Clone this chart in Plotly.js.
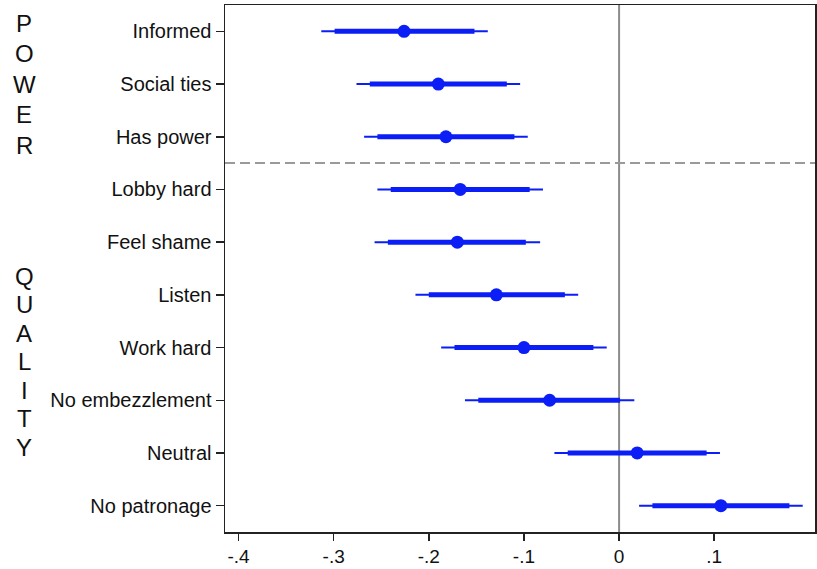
<!DOCTYPE html>
<html>
<head>
<meta charset="utf-8">
<script src="https://cdn.plot.ly/plotly-3.0.1.min.js"></script>
<style>html,body{margin:0;padding:0;background:#fff;}#chart{width:817px;height:569px;}</style>
</head>
<body>
<div id="chart"></div>
<script>
var labels = ["Informed","Social ties","Has power","Lobby hard","Feel shame","Listen","Work hard","No embezzlement","Neutral","No patronage"];
var estimate = [-0.226,-0.190,-0.182,-0.167,-0.170,-0.129,-0.100,-0.073,0.019,0.107];
var lo95 = [-0.313,-0.276,-0.268,-0.254,-0.257,-0.214,-0.187,-0.162,-0.068,0.021];
var hi95 = [-0.138,-0.104,-0.096,-0.080,-0.083,-0.043,-0.013,0.016,0.106,0.193];
var lo90 = [-0.299,-0.262,-0.254,-0.240,-0.243,-0.200,-0.173,-0.148,-0.054,0.035];
var hi90 = [-0.152,-0.118,-0.110,-0.094,-0.098,-0.057,-0.027,0.001,0.092,0.179];
var xTickVals = [-0.4,-0.3,-0.2,-0.1,0,0.1];
var xTickText = ["-.4","-.3","-.2","-.1","0",".1"];
var groupPower = ["P","O","W","E","R"];
var groupQuality = ["Q","U","A","L","I","T","Y"];

var blue = "#0a1ef5";
var rows = labels.map(function(_, i){ return i; });

function mid(lo, hi){ return lo.map(function(v,i){ return (v + hi[i]) / 2; }); }
function half(lo, hi){ return lo.map(function(v,i){ return (hi[i] - v) / 2; }); }

var thin = {
  type: "scatter", mode: "markers", x: mid(lo95, hi95), y: rows,
  marker: {size: 0.1, color: "rgba(0,0,0,0)"},
  error_x: {type: "data", symmetric: true, array: half(lo95, hi95), thickness: 2, width: 0, color: blue},
  hoverinfo: "skip", showlegend: false
};
var thick = {
  type: "scatter", mode: "markers", x: mid(lo90, hi90), y: rows,
  marker: {size: 0.1, color: "rgba(0,0,0,0)"},
  error_x: {type: "data", symmetric: true, array: half(lo90, hi90), thickness: 5, width: 0, color: blue},
  hoverinfo: "skip", showlegend: false
};
var pts = {
  type: "scatter", mode: "markers", x: estimate, y: rows,
  marker: {size: 13, color: blue, line: {width: 0}},
  showlegend: false
};

// plot area geometry (pixels)
var L = 225, T = 5, W = 590, H = 527;
function px2paperY(py){ return 1 - (py - T) / H; }
function px2paperX(px){ return (px - L) / W; }

var ann = [];
var powerY = [23, 53.5, 84, 114.5, 145];
var qualY = [276, 304.5, 333, 361.5, 390, 418.5, 447];
groupPower.forEach(function(c, i){
  ann.push({text: c, xref: "paper", yref: "paper", x: px2paperX(24), y: px2paperY(powerY[i]),
    xanchor: "center", yanchor: "middle", showarrow: false, font: {size: 24, color: "#111"}});
});
groupQuality.forEach(function(c, i){
  ann.push({text: c, xref: "paper", yref: "paper", x: px2paperX(24), y: px2paperY(qualY[i]),
    xanchor: "center", yanchor: "middle", showarrow: false, font: {size: 24, color: "#111"}});
});

var layout = {
  width: 817, height: 569,
  margin: {l: L, r: 817 - L - W, t: T, b: 569 - T - H, pad: 0},
  paper_bgcolor: "#fff", plot_bgcolor: "#fff",
  font: {family: "Liberation Sans, Arial, Helvetica, sans-serif", color: "#111", size: 19},
  xaxis: {
    range: [-0.4142, 0.2059], tickvals: xTickVals, ticktext: xTickText,
    ticks: "outside", ticklen: 7, tickwidth: 1.5, tickcolor: "#222",
    showgrid: false, zeroline: false, showline: true, mirror: true,
    linecolor: "#222", linewidth: 1.5, tickfont: {size: 19}
  },
  yaxis: {
    range: [9.5, -0.5], tickvals: rows, ticktext: labels,
    ticks: "outside", ticklen: 8, tickwidth: 1.5, tickcolor: "#222",
    showgrid: false, zeroline: false, showline: true, mirror: true,
    linecolor: "#222", linewidth: 1.5, tickfont: {size: 20}
  },
  shapes: [
    {type: "line", xref: "x", yref: "paper", x0: 0, x1: 0, y0: 0, y1: 1, layer: "below",
     line: {color: "#8c8c8c", width: 2}},
    {type: "line", xref: "paper", yref: "y", x0: 0, x1: 1, y0: 2.5, y1: 2.5, layer: "below",
     line: {color: "#9a9a9a", width: 2, dash: "10px,5px"}}
  ],
  annotations: ann,
  showlegend: false
};

Plotly.newPlot("chart", [thin, thick, pts], layout, {displayModeBar: false, staticPlot: true});
</script>
</body>
</html>
